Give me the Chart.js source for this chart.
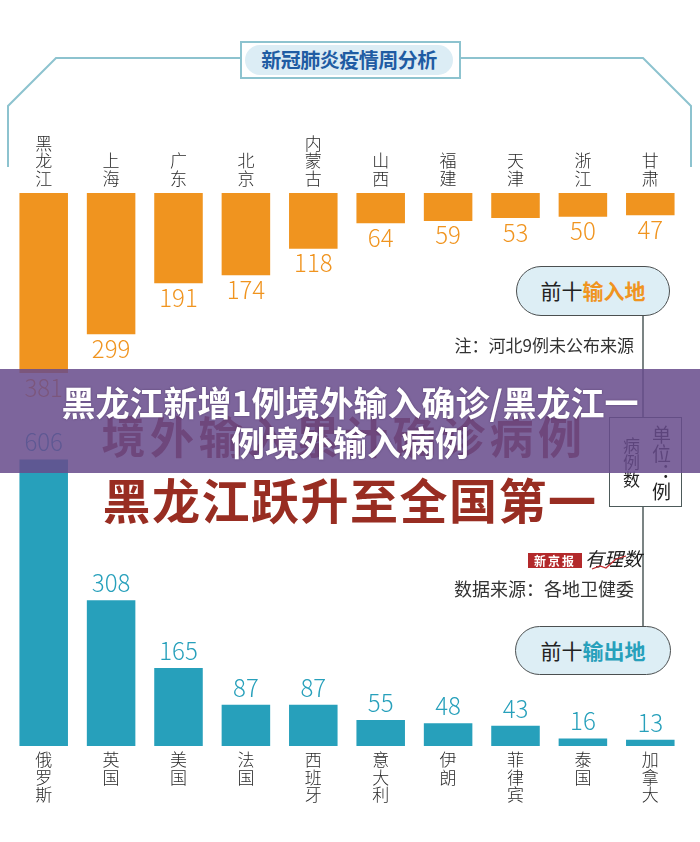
<!DOCTYPE html>
<html lang="zh">
<head>
<meta charset="utf-8">
<title>新冠肺炎疫情周分析</title>
<script src="https://cdn.jsdelivr.net/npm/chart.js@4.4.1/dist/chart.umd.min.js"></script>
<style>
  body { margin: 0; background: #fff; }
  #page { position: relative; width: 700px; height: 842px; overflow: hidden; background: #fff;
          font-family: 'Noto Sans CJK SC', sans-serif; }
  .abs { position: absolute; }
  canvas { position: absolute; left: 0; }
  #titleBox { left: 240px; top: 41px; width: 221px; height: 38px; box-sizing: border-box;
              border: 2px solid #8dc3cf; background: #fff; }
  #titleBox div { position: absolute; left: 3px; top: 2px; right: 6px; bottom: 2px; border-radius: 15px;
                  background: #dcedf5; color: #1f5ca3; font-weight: bold; font-size: 20px;
                  line-height: 30px; text-align: center; letter-spacing: -0.5px; }
  .pill { box-sizing: border-box; border: 1.5px solid #4b4f50; border-radius: 26px; background: #ddeef5;
          font-size: 21px; line-height: 46px; text-align: center; color: #222; }
  .pill b { font-weight: bold; }
  .note { right: 66px; font-size: 17px; line-height: 18px; color: #333; white-space: nowrap; }
  .big { text-align: center; font-weight: bold; color: #982d22; white-space: nowrap; line-height: 1; }
  #unitBox { left: 609px; top: 417px; width: 73px; height: 90px; box-sizing: border-box;
             border: 1.5px solid #4d5a5a; background: #fff; }
  .vert { position: absolute; writing-mode: vertical-rl; color: #222; line-height: 1; }
  #banner { left: 0; top: 369px; width: 700px; height: 104px; background: rgba(104, 76, 140, 0.86); }
  .bannerText { left: 0; width: 700px; text-align: center; color: #fff; font-weight: bold; font-size: 34px;
                line-height: 40px; white-space: nowrap; text-shadow: 0 0 2px rgba(40, 20, 60, 0.5); }
</style>
</head>
<body>
<div id="page">
  <svg class="abs" width="700" height="842" style="left:0;top:0">
    <polyline points="8,167 8,106 56,58 240,58" fill="none" stroke="#8dc3cf" stroke-width="2"/>
    <polyline points="461,58 643,58 691,106 691,167" fill="none" stroke="#8dc3cf" stroke-width="2"/>
    <line x1="643" y1="316" x2="643" y2="626" stroke="#4f5b5b" stroke-width="1.5"/>
  </svg>
  <div id="titleBox" class="abs"><div>新冠肺炎疫情周分析</div></div>

  <canvas id="inChart" width="700" height="400" style="top:0"></canvas>
  <canvas id="outChart" width="700" height="442" style="top:400px"></canvas>

  <div class="abs pill" style="left:516px;top:266px;width:154px;height:50px">前十<b style="color:#f0941f">输入地</b></div>
  <div class="abs note" style="top:336px">注：河北9例未公布来源</div>

  <div class="abs big" style="left:94px;top:413px;width:500px;font-size:44px;letter-spacing:4.5px">境外输入累计确诊病例</div>
  <div class="abs big" style="left:100px;top:474px;width:500px;font-size:48px;letter-spacing:1.5px">黑龙江跃升至全国第一</div>

  <div id="unitBox" class="abs">
    <div class="vert" style="left:42px;top:7px;font-size:19px">单位：例</div>
    <div class="vert" style="left:13px;top:19px;font-size:17px">病例数</div>
  </div>

  <div class="abs" style="left:528px;top:553px;width:54px;height:15px;background:#b3292b;color:#fff;
       font-size:12px;font-weight:bold;line-height:15px;text-align:center;letter-spacing:2px">新京报</div>
  <div class="abs" style="left:585px;top:547px;font-size:19px;font-style:italic;line-height:22px;color:#222">有理数</div>
  <svg class="abs" width="700" height="842" style="left:0;top:0">
    <polyline points="592,569 600,566 606,568 616,559 626,556" fill="none" stroke="#c0282c" stroke-width="1.2"/>
  </svg>
  <div class="abs note" style="top:579px;font-size:18px">数据来源：各地卫健委</div>

  <div class="abs pill" style="left:515px;top:626px;width:156px;height:49px">前十<b style="color:#27a0bb">输出地</b></div>

  <div id="banner" class="abs"></div>
  <div class="abs bannerText" style="top:382px">黑龙江新增1例境外输入确诊/黑龙江一</div>
  <div class="abs bannerText" style="top:422px">例境外输入病例</div>
</div>

<script>
// 前十输入地（省份）
const provinces = ['黑龙江', '上海', '广东', '北京', '内蒙古', '山西', '福建', '天津', '浙江', '甘肃'];
const inputCases = [381, 299, 191, 174, 118, 64, 59, 53, 50, 47];
// 前十输出地（国家）
const countries = ['俄罗斯', '英国', '美国', '法国', '西班牙', '意大利', '伊朗', '菲律宾', '泰国', '加拿大'];
const outputCases = [606, 308, 165, 87, 87, 55, 48, 43, 16, 13];

const orange = '#f0941f';
const blue = '#27a0bb';
const cjk = "'Noto Sans CJK SC', sans-serif";
const tickFont = { family: cjk, size: 17, weight: 300, lineHeight: 1.03 };

// numbers at the end of each bar
const barLabels = {
  id: 'barLabels',
  afterDatasetsDraw(chart, args, opts) {
    const ctx = chart.ctx;
    const meta = chart.getDatasetMeta(0);
    const data = chart.data.datasets[0].data;
    ctx.save();
    ctx.font = '300 24px ' + cjk;
    ctx.fillStyle = opts.color;
    ctx.textAlign = 'center';
    ctx.textBaseline = 'alphabetic';
    meta.data.forEach(function (bar, i) {
      ctx.fillText(String(data[i]), bar.x, bar.y + opts.offset + 8.5);
    });
    ctx.restore();
  }
};

function vertical(names) {
  return names.map(function (n) { return n.split(''); });
}

new Chart(document.getElementById('inChart'), {
  type: 'bar',
  data: {
    labels: vertical(provinces),
    datasets: [{ data: inputCases, backgroundColor: orange, barPercentage: 0.72, categoryPercentage: 1 }]
  },
  options: {
    responsive: false,
    animation: false,
    devicePixelRatio: 1,
    layout: { padding: { left: 10, right: 16, top: 0, bottom: 18 } },
    plugins: { legend: { display: false }, tooltip: { enabled: false }, barLabels: { color: orange, offset: 15 } },
    scales: {
      x: {
        position: 'top',
        grid: { display: false },
        border: { display: false },
        ticks: { color: '#2a2a2a', font: tickFont, padding: -2, autoSkip: false, maxRotation: 0 },
        afterFit: function (s) { s.height = 193; }
      },
      y: { display: false, reverse: true, min: 0, max: 400 }
    }
  },
  plugins: [barLabels]
});

new Chart(document.getElementById('outChart'), {
  type: 'bar',
  data: {
    labels: vertical(countries),
    datasets: [{ data: outputCases, backgroundColor: blue, barPercentage: 0.72, categoryPercentage: 1 }]
  },
  options: {
    responsive: false,
    animation: false,
    devicePixelRatio: 1,
    layout: { padding: { left: 10, right: 16, top: 15, bottom: 0 } },
    plugins: { legend: { display: false }, tooltip: { enabled: false }, barLabels: { color: blue, offset: -16.5 } },
    scales: {
      x: {
        position: 'bottom',
        grid: { display: false },
        border: { display: false },
        ticks: { color: '#2a2a2a', font: tickFont, padding: -3, autoSkip: false, maxRotation: 0 },
        afterFit: function (s) { s.height = 96; }
      },
      y: { display: false, min: 0, max: 700 }
    }
  },
  plugins: [barLabels]
});
</script>
</body>
</html>
